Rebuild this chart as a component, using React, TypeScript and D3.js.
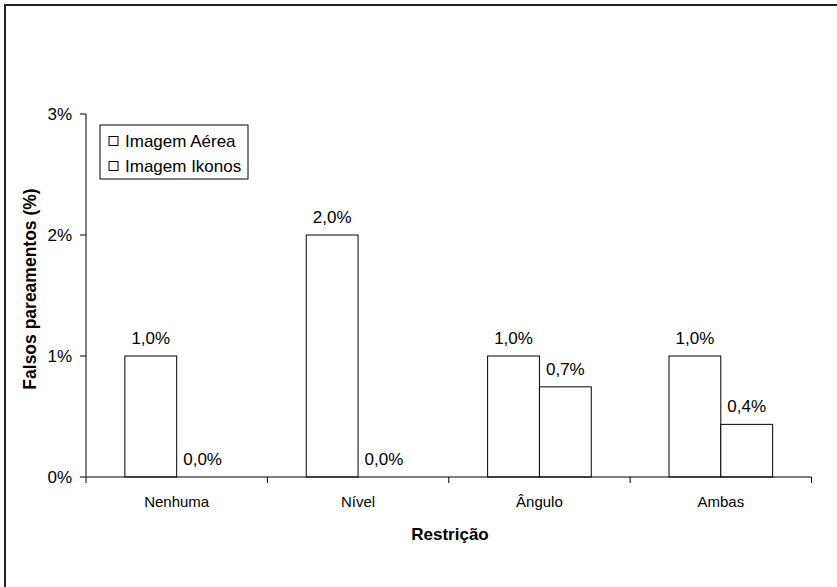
import { useEffect, useRef } from 'react';
import * as d3 from 'd3';

// Falsos pareamentos (%) por restrição, para as duas imagens
const CATEGORIES = ['Nenhuma', 'Nível', 'Ângulo', 'Ambas'];
const SERIES = ['Imagem Aérea', 'Imagem Ikonos'];
const AEREA = [1.0, 2.0, 1.0, 1.0];
const IKONOS = [0.0, 0.0, 0.745, 0.435];
const Y_TICKS = [0, 1, 2, 3];

const WIDTH = 837;
const HEIGHT = 587;
const PLOT = { left: 86, right: 811.5, top: 114, bottom: 477 } as const;
const FONT = 'Liberation Sans, Arial, Helvetica, sans-serif';

export default function App() {
  const svgRef = useRef<SVGSVGElement | null>(null);

  useEffect(() => {
    const svgEl = svgRef.current;
    if (!svgEl) return;
    const svg = d3.select(svgEl);
    svg.selectAll('*').remove();

    const values = [AEREA, IKONOS];

    const x = d3.scaleBand<string>().domain(CATEGORIES).range([PLOT.left, PLOT.right]);
    const xSub = d3
      .scaleBand<string>()
      .domain(SERIES)
      .range([0, x.bandwidth()])
      .paddingInner(0)
      .paddingOuter(0.75);
    const y = d3.scaleLinear().domain([0, 3]).range([PLOT.bottom, PLOT.top]);

    // ---- outer frame (only top/left edges fall inside the picture) --------
    svg
      .append('rect')
      .attr('x', 5)
      .attr('y', 5)
      .attr('width', WIDTH + 20)
      .attr('height', HEIGHT + 20)
      .attr('fill', 'none')
      .attr('stroke', '#222')
      .attr('stroke-width', 2);

    // ---- bars ---------------------------------------------------------------
    CATEGORIES.forEach((cat, ci) => {
      SERIES.forEach((s, si) => {
        const v = values[si][ci];
        const bx = (x(cat) ?? 0) + (xSub(s) ?? 0);
        svg
          .append('rect')
          .attr('x', bx)
          .attr('y', y(v))
          .attr('width', xSub.bandwidth())
          .attr('height', y(0) - y(v))
          .attr('fill', '#fff')
          .attr('stroke', '#000')
          .attr('stroke-width', 1);
        svg
          .append('text')
          .attr('x', bx + xSub.bandwidth() / 2)
          .attr('y', y(v) - 12)
          .attr('text-anchor', 'middle')
          .attr('font-family', FONT)
          .attr('font-size', 17)
          .attr('fill', '#000')
          .text(`${v.toFixed(1).replace('.', ',')}%`);
      });
    });

    // ---- y axis ---------------------------------------------------------------
    svg
      .append('line')
      .attr('x1', PLOT.left)
      .attr('x2', PLOT.left)
      .attr('y1', PLOT.top)
      .attr('y2', PLOT.bottom)
      .attr('stroke', '#000');
    Y_TICKS.forEach((t) => {
      svg
        .append('line')
        .attr('x1', PLOT.left - 6)
        .attr('x2', PLOT.left)
        .attr('y1', y(t))
        .attr('y2', y(t))
        .attr('stroke', '#000');
      svg
        .append('text')
        .attr('x', PLOT.left - 14)
        .attr('y', y(t))
        .attr('dy', '0.36em')
        .attr('text-anchor', 'end')
        .attr('font-family', FONT)
        .attr('font-size', 17)
        .attr('fill', '#000')
        .text(`${t}%`);
    });

    // ---- x axis ---------------------------------------------------------------
    svg
      .append('line')
      .attr('x1', PLOT.left)
      .attr('x2', PLOT.right)
      .attr('y1', y(0))
      .attr('y2', y(0))
      .attr('stroke', '#000');
    const boundaries = [...CATEGORIES.map((c) => x(c) ?? 0), PLOT.right];
    boundaries.forEach((bx) => {
      svg
        .append('line')
        .attr('x1', bx)
        .attr('x2', bx)
        .attr('y1', y(0))
        .attr('y2', y(0) + 6)
        .attr('stroke', '#000');
    });
    CATEGORIES.forEach((cat) => {
      svg
        .append('text')
        .attr('x', (x(cat) ?? 0) + x.bandwidth() / 2)
        .attr('y', 507)
        .attr('text-anchor', 'middle')
        .attr('font-family', FONT)
        .attr('font-size', 15)
        .attr('fill', '#000')
        .text(cat);
    });

    // ---- axis titles ------------------------------------------------------------
    svg
      .append('text')
      .attr('x', 450)
      .attr('y', 540)
      .attr('text-anchor', 'middle')
      .attr('font-family', FONT)
      .attr('font-size', 17)
      .attr('font-weight', 'bold')
      .attr('fill', '#000')
      .text('Restrição');
    svg
      .append('text')
      .attr('transform', 'translate(36, 289) rotate(-90)')
      .attr('text-anchor', 'middle')
      .attr('font-family', FONT)
      .attr('font-size', 17.5)
      .attr('font-weight', 'bold')
      .attr('fill', '#000')
      .text('Falsos pareamentos (%)');

    // ---- legend -------------------------------------------------------------------
    const legend = svg.append('g').attr('transform', 'translate(100, 125)');
    legend
      .append('rect')
      .attr('width', 148)
      .attr('height', 54)
      .attr('fill', '#fff')
      .attr('stroke', '#000');
    SERIES.forEach((s, i) => {
      const ly = 22 + i * 25;
      legend
        .append('rect')
        .attr('x', 9)
        .attr('y', ly - 10.5)
        .attr('width', 9)
        .attr('height', 9)
        .attr('fill', '#fff')
        .attr('stroke', '#000');
      legend
        .append('text')
        .attr('x', 25)
        .attr('y', ly)
        .attr('font-family', FONT)
        .attr('font-size', 17)
        .attr('fill', '#000')
        .text(s);
    });
  }, []);

  return (
    <svg
      ref={svgRef}
      width={WIDTH}
      height={HEIGHT}
      style={{ position: 'absolute', left: 0, top: 0, display: 'block', background: '#fff' }}
      role="img"
      aria-label="Falsos pareamentos por restrição"
    />
  );
}
